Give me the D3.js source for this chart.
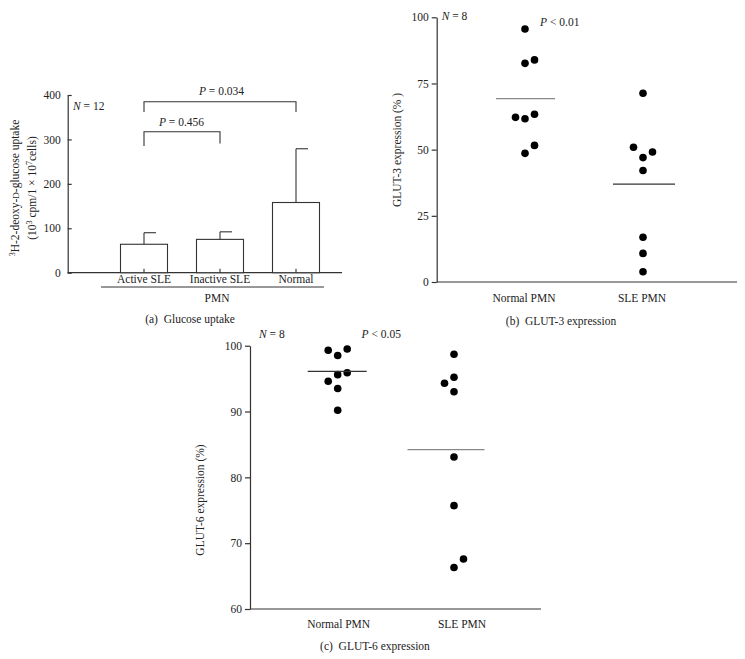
<!DOCTYPE html>
<html><head><meta charset="utf-8">
<script src="https://cdn.jsdelivr.net/npm/d3@7"></script>
<style>
body{margin:0;background:#fff;}
svg{font-family:"Liberation Serif","DejaVu Serif",serif;font-size:11.5px;fill:#222;}
</style></head><body>
<svg id="c" width="745" height="659"></svg>
<script>
// ---- Data ----
// Panel (a) glucose uptake
const aCategories = ["Active SLE", "Inactive SLE", "Normal"];
const aMeans = [64, 75, 158];
const aErrTop = [90, 92, 279];
const aTicks = [0, 100, 200, 300, 400];
// Panel (b) GLUT-3
const bCategories = ["Normal PMN", "SLE PMN"];
const bNormal = [95.6, 82.6, 83.9, 62.2, 61.7, 63.4, 51.6, 48.6];
const bNormalCol = [0, 0, 1, -1, 0, 1, 1, 0];
const bSLE = [71.3, 50.9, 47.0, 49.1, 42.1, 16.9, 10.8, 3.9];
const bSLECol = [0, -1, 0, 1, 0, 0, 0, 0];
const bMeans = [69.3, 37.0];
const bTicks = [0, 25, 50, 75, 100];
// Panel (c) GLUT-6
const cCategories = ["Normal PMN", "SLE PMN"];
const cNormal = [99.3, 98.5, 99.5, 94.6, 95.6, 95.9, 93.5, 90.2];
const cNormalCol = [-1, 0, 1, -1, 0, 1, 0, 0];
const cSLE = [98.7, 94.3, 95.2, 93.0, 83.1, 75.7, 67.6, 66.3];
const cSLECol = [0, -1, 0, 0, 0, 0, 1, 0];
const cMeans = [96.1, 84.2];
const cTicks = [60, 70, 80, 90, 100];

const svg = d3.select("#c");
const axisCol = "#333";

function styleAxis(g){
  g.selectAll("path.domain").attr("stroke", axisCol).attr("stroke-width", 1.2);
  g.selectAll(".tick line").attr("stroke", axisCol).attr("stroke-width", 1.2);
  g.selectAll(".tick text").attr("font-family", "Liberation Serif, serif").attr("font-size", 11.5).attr("fill", "#222");
}

// ---------- Panel (a) ----------
{
  const y = d3.scaleLinear().domain([0, 400]).range([272.7, 95]);
  const x = d3.scalePoint().domain(aCategories).range([144, 296]);
  const x0 = 67.7, x1 = 342, bw = 47;
  const gy = svg.append("g").attr("transform", `translate(${x0},0)`)
    .call(d3.axisRight(y).tickValues(aTicks).tickSize(4).tickSizeOuter(0).tickFormat(d3.format("d")));
  gy.selectAll(".tick text").attr("x", -7).attr("text-anchor", "end");
  styleAxis(gy);
  svg.append("line").attr("x1", x0).attr("x2", x1).attr("y1", y(0)).attr("y2", y(0)).attr("stroke", axisCol).attr("stroke-width", 1.2);
  svg.selectAll("rect.bar").data(aCategories).join("rect")
    .attr("x", d => x(d) - bw / 2).attr("width", bw)
    .attr("y", (d, i) => y(aMeans[i])).attr("height", (d, i) => y(0) - y(aMeans[i]))
    .attr("fill", "#fff").attr("stroke", axisCol).attr("stroke-width", 1.1);
  svg.selectAll("line.err").data(aCategories).join("line")
    .attr("x1", d => x(d)).attr("x2", d => x(d))
    .attr("y1", (d, i) => y(aMeans[i])).attr("y2", (d, i) => y(aErrTop[i]))
    .attr("stroke", axisCol).attr("stroke-width", 1.1);
  svg.selectAll("line.cap").data(aCategories).join("line")
    .attr("x1", d => x(d)).attr("x2", d => x(d) + 12)
    .attr("y1", (d, i) => y(aErrTop[i])).attr("y2", (d, i) => y(aErrTop[i]))
    .attr("stroke", axisCol).attr("stroke-width", 1.1);
  svg.selectAll("line.xt").data(aCategories).join("line")
    .attr("x1", d => x(d)).attr("x2", d => x(d))
    .attr("y1", y(0)).attr("y2", y(0) - 4).attr("stroke", axisCol).attr("stroke-width", 1.1);
  svg.selectAll("text.xl").data(aCategories).join("text")
    .attr("x", d => x(d)).attr("y", 283).attr("text-anchor", "middle").text(d => d);
  svg.append("line").attr("x1", 101).attr("x2", 324).attr("y1", 287).attr("y2", 287).attr("stroke", axisCol).attr("stroke-width", 1);
  svg.append("text").attr("x", 217).attr("y", 301.5).attr("text-anchor", "middle").text("PMN");
  svg.append("text").attr("x", 190).attr("y", 323).attr("text-anchor", "middle").attr("xml:space", "preserve").text("(a)  Glucose uptake");
  function bracket(c1, c2, yv, yLeg1, yLeg2, label, lx, ly){
    svg.append("path").attr("fill", "none").attr("stroke", axisCol).attr("stroke-width", 1.1)
      .attr("d", `M${x(c1)},${yLeg1}V${yv}H${x(c2)}V${yLeg2}`);
    const t = svg.append("text").attr("x", lx).attr("y", ly).attr("text-anchor", "middle");
    t.append("tspan").attr("font-style", "italic").text("P");
    t.append("tspan").text(" = " + label);
  }
  bracket("Active SLE", "Normal", 101.7, 112, 112, "0.034", 221.5, 95);
  bracket("Active SLE", "Inactive SLE", 131.7, 146, 143.5, "0.456", 181.5, 125.5);
  const n = svg.append("text").attr("x", 73).attr("y", 110);
  n.append("tspan").attr("font-style", "italic").text("N");
  n.append("tspan").text(" = 12");
  const yl = svg.append("g").attr("transform", "translate(19,188) rotate(-90)");
  const t1 = yl.append("text").attr("text-anchor", "middle");
  t1.append("tspan").attr("font-size", 8).attr("dy", -4).text("3");
  t1.append("tspan").attr("dy", 4).text("H-2-deoxy-");
  t1.append("tspan").attr("font-size", 9).text("D");
  t1.append("tspan").text("-glucose uptake");
  const t2 = yl.append("text").attr("text-anchor", "middle").attr("y", 16.5);
  t2.append("tspan").text("(10");
  t2.append("tspan").attr("font-size", 8).attr("dy", -4).text("3");
  t2.append("tspan").attr("dy", 4).text(" cpm/1 × 10");
  t2.append("tspan").attr("font-size", 8).attr("dy", -4).text("7");
  t2.append("tspan").attr("dy", 4).text("cells)");
}

// ---------- Scatter panel helper ----------
function scatterPanel(opt){
  const y = d3.scaleLinear().domain(opt.domain).range(opt.yRange);
  const x = d3.scalePoint().domain(opt.cats).range(opt.xRange);
  const gy = svg.append("g").attr("transform", `translate(${opt.x0},0)`)
    .call(d3.axisLeft(y).tickValues(opt.ticks).tickSize(5).tickSizeOuter(0).tickFormat(d3.format("d")));
  gy.selectAll(".tick text").attr("x", -8);
  styleAxis(gy);
  svg.append("line").attr("x1", opt.x0).attr("x2", opt.x1).attr("y1", opt.yRange[0]).attr("y2", opt.yRange[0])
    .attr("stroke", axisCol).attr("stroke-width", 1.2);
  const groups = [[opt.v1, opt.c1], [opt.v2, opt.c2]];
  groups.forEach(([vals, cols], gi) => {
    svg.append("g").selectAll("circle").data(vals).join("circle")
      .attr("cx", (d, i) => x(opt.cats[gi]) + cols[i] * 9.5)
      .attr("cy", d => y(d)).attr("r", 3.8).attr("fill", "#000");
    const m = opt.means[gi];
    svg.append("line").attr("x1", x(opt.cats[gi]) + opt.meanOff[gi] - opt.meanHalf[gi])
      .attr("x2", x(opt.cats[gi]) + opt.meanOff[gi] + opt.meanHalf[gi])
      .attr("y1", y(m)).attr("y2", y(m)).attr("stroke", opt.meanCol[gi]).attr("stroke-width", 1.3);
  });
  svg.selectAll(null).data(opt.cats).join("text")
    .attr("x", (d, i) => x(d) + opt.labOff[i]).attr("y", opt.labY).attr("text-anchor", "middle").text(d => d);
  const n = svg.append("text").attr("x", opt.nPos[0]).attr("y", opt.nPos[1]);
  n.append("tspan").attr("font-style", "italic").text("N");
  n.append("tspan").text(" = 8");
  const p = svg.append("text").attr("x", opt.pPos[0]).attr("y", opt.pPos[1]);
  p.append("tspan").attr("font-style", "italic").text("P");
  p.append("tspan").text(" < " + opt.pText);
  svg.append("text").attr("transform", `translate(${opt.yl[0]},${opt.yl[1]}) rotate(-90)`)
    .attr("text-anchor", "middle").text(opt.ylabel);
  svg.append("text").attr("x", opt.cap[0]).attr("y", opt.cap[1]).attr("text-anchor", "middle")
    .attr("xml:space", "preserve").text(opt.caption);
}

scatterPanel({
  domain: [0, 100], yRange: [282, 17.3], xRange: [525, 643], x0: 436.7, x1: 737,
  cats: bCategories, ticks: bTicks, v1: bNormal, c1: bNormalCol, v2: bSLE, c2: bSLECol,
  means: bMeans, meanOff: [0.5, 1], meanHalf: [29.5, 31], meanCol: ["#888", "#333"],
  labY: 301.5, labOff: [-1, -1], nPos: [441.7, 20], pPos: [540, 25.5], pText: "0.01",
  yl: [401, 150], ylabel: "GLUT-3 expression (% )", cap: [561, 325], caption: "(b)  GLUT-3 expression"
});

scatterPanel({
  domain: [60, 100], yRange: [609, 345.7], xRange: [337.7, 454], x0: 250, x1: 541,
  cats: cCategories, ticks: cTicks, v1: cNormal, c1: cNormalCol, v2: cSLE, c2: cSLECol,
  means: cMeans, meanOff: [-0.5, -8], meanHalf: [29.5, 38.5], meanCol: ["#333", "#888"],
  labY: 628, labOff: [1, 8], nPos: [259, 338], pPos: [361.5, 338], pText: "0.05",
  yl: [204, 500], ylabel: "GLUT-6 expression (%)", cap: [375, 650], caption: "(c)  GLUT-6 expression"
});
</script>
</body></html>
